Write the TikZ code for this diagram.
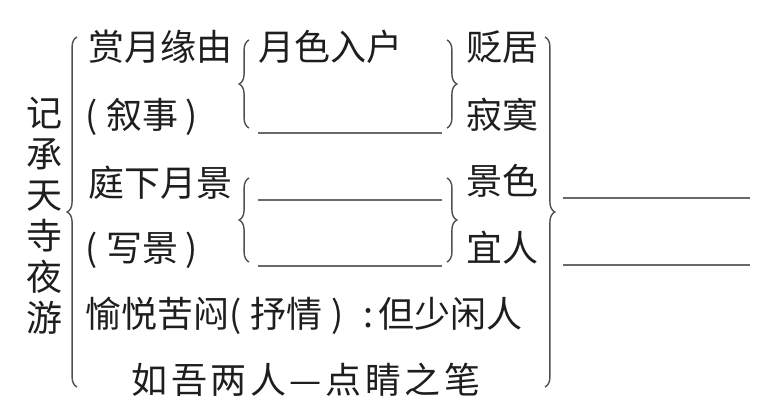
\documentclass[tikz,border=0pt]{standalone}
\usepackage{fontspec}
\newfontfamily\cjk{Noto Sans CJK SC}
\usetikzlibrary{decorations.pathreplacing}
\definecolor{inkblack}{RGB}{30,30,30}
\definecolor{linegray}{RGB}{80,80,80}

\begin{document}
\begin{tikzpicture}[x=0.025cm, y=-0.025cm,
  txt/.style={inner sep=0pt, font=\cjk\fontsize{25.6pt}{29.2pt}\selectfont, text=inkblack},
  curly/.style={draw=linegray, line width=1pt, decorate, decoration={brace, amplitude=7pt}},
  blank/.style={draw=linegray!85, line width=0.9pt}]

\useasboundingbox (0,0) rectangle (776,411);

% ============================================================
% TITULO (vertical, izquierda)
% ============================================================
\node[txt, align=center] (title) at (44,216) {记\\承\\天\\寺\\夜\\游};

% ============================================================
% ESTRUCTURA — columna izquierda
% ============================================================
\node[txt, anchor=west] (reason)   at (88,47)  {赏月缘由};
\node[txt, anchor=west] (narrate)  at (85,117) {(\hspace{0.25em}叙事\hspace{0.2em})};
\node[txt, anchor=west] (scene)    at (88,183) {庭下月景};
\node[txt, anchor=west] (describe) at (85,250) {(\hspace{0.25em}写景\hspace{0.2em})};
\node[txt, anchor=west] (feeling)  at (85,316)
  {愉悦苦闷(\hspace{0.25em}抒情\hspace{0.25em})\hspace{0.55em}:\hspace{0.15em}但少闲人};
\node[txt, font=\cjk\fontsize{25.6pt}{29.2pt}\addfontfeature{LetterSpace=10}\selectfont]
  (finale) at (306,380) {如吾两人—点睛之笔};

% ============================================================
% CONTENIDO — columna central (con huecos)
% ============================================================
\node[txt, anchor=west] (moon) at (258,47) {月色入户};
\draw[blank] (258,133) -- (442,133);
\draw[blank] (258,200) -- (442,200);
\draw[blank] (258,266) -- (442,266);

% ============================================================
% ESTADO DE ANIMO — columna derecha
% ============================================================
\node[txt] (exile)  at (502,47)  {贬居};
\node[txt] (lonely) at (502,115) {寂寞};
\node[txt] (view)   at (502,181) {景色};
\node[txt] (nice)   at (502,248) {宜人};

% Huecos finales
\draw[blank] (563,198) -- (750,198);
\draw[blank] (563,265) -- (750,265);

% ============================================================
% LLAVES
% ============================================================

% Llaves exteriores
\coordinate (outerL-top) at (77,37);
\coordinate (outerL-bot) at (77,387);
\coordinate (outerR-top) at (545,37);
\coordinate (outerR-bot) at (545,387);
\draw[curly] (outerL-bot) -- (outerL-top);
\draw[curly] (outerR-top) -- (outerR-bot);

% Llaves del primer bloque
\coordinate (in1L-top) at (249,40);
\coordinate (in1L-bot) at (249,128);
\coordinate (in1R-top) at (447,40);
\coordinate (in1R-bot) at (447,128);
\draw[curly] (in1L-bot) -- (in1L-top);
\draw[curly] (in1R-top) -- (in1R-bot);

% Llaves del segundo bloque
\coordinate (in2L-top) at (249,178);
\coordinate (in2L-bot) at (249,262);
\coordinate (in2R-top) at (447,178);
\coordinate (in2R-bot) at (447,262);
\draw[curly] (in2L-bot) -- (in2L-top);
\draw[curly] (in2R-top) -- (in2R-bot);

\end{tikzpicture}
\end{document}
